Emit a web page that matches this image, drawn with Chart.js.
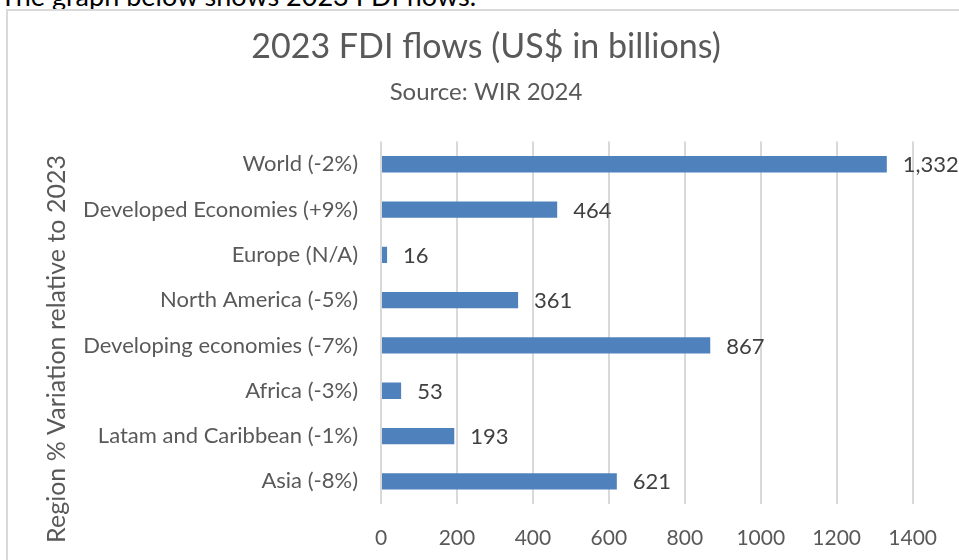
<!DOCTYPE html>
<html>
<head>
<meta charset="utf-8">
<script src="https://cdn.jsdelivr.net/npm/chart.js@4.4.1/dist/chart.umd.min.js"></script>
<style>
  html, body { margin: 0; padding: 0; background: #fff; overflow: hidden; }
  #page { position: relative; width: 959px; height: 560px; overflow: hidden; }
  #intro { position: absolute; left: 0; top: -18px; font: 27px Lato, sans-serif; line-height: 27px; color: #000; white-space: nowrap; }
  #frame { position: absolute; left: 6px; top: 9px; width: 1200px; height: 800px; border: 2px solid #d9d9d9; }
  #chart-box { position: absolute; left: 0; top: 0; width: 959px; height: 560px; }
</style>
</head>
<body>
<div id="page">
  <div id="intro">The graph below shows 2023 FDI flows.</div>
  <div id="frame"></div>
  <div id="chart-box"><canvas id="chart-container"></canvas></div>
</div>
<script>
  const regions = [
    "World (-2%)",
    "Developed Economies (+9%)",
    "Europe (N/A)",
    "North America (-5%)",
    "Developing economies (-7%)",
    "Africa (-3%)",
    "Latam and Caribbean (-1%)",
    "Asia (-8%)"
  ];
  const fdiFlows = [1332, 464, 16, 361, 867, 53, 193, 621];
  const xTicks = [0, 200, 400, 600, 800, 1000, 1200, 1400];

  const chartTitle = "2023 FDI flows (US$ in billions)";
  const chartSubtitle = "Source: WIR 2024";
  const yAxisTitle = "Region % Variation relative to 2023";

  const textGrey = "#595959";
  const fontFamily = "Lato, 'Open Sans', sans-serif";

  // value labels to the right of each bar
  const valueLabels = {
    id: 'valueLabels',
    afterDatasetsDraw(chart) {
      const ctx = chart.ctx;
      const meta = chart.getDatasetMeta(0);
      ctx.save();
      ctx.font = "22px " + fontFamily;
      ctx.fillStyle = "#404040";
      ctx.textAlign = "left";
      ctx.textBaseline = "middle";
      meta.data.forEach((bar, i) => {
        ctx.fillText(fdiFlows[i].toLocaleString('en-US'), bar.x + 16, bar.y + 1);
      });
      ctx.restore();
    }
  };

  // rotated axis title, centred like the Excel original
  const sideTitle = {
    id: 'sideTitle',
    afterDraw(chart) {
      const ctx = chart.ctx;
      ctx.save();
      ctx.translate(57, 349);
      ctx.rotate(-Math.PI / 2);
      ctx.font = "25px " + fontFamily;
      ctx.fillStyle = textGrey;
      ctx.textAlign = "center";
      ctx.textBaseline = "middle";
      ctx.fillText(yAxisTitle, 0, 0);
      ctx.restore();
    }
  };

  document.addEventListener("DOMContentLoaded", () => {
    new Chart(
      document.getElementById('chart-container'),
      {
        type: 'bar',
        data: {
          labels: regions,
          datasets: [{
            data: fdiFlows,
            backgroundColor: '#4f81bd',
            borderWidth: 0,
            categoryPercentage: 1,
            barPercentage: 0.36
          }]
        },
        plugins: [valueLabels, sideTitle],
        options: {
          indexAxis: 'y',
          responsive: true,
          maintainAspectRatio: false,
          animation: false,
          layout: {
            padding: { left: 59, right: 46, top: 12, bottom: 0 }
          },
          plugins: {
            legend: { display: false },
            tooltip: { enabled: false },
            title: {
              display: true,
              text: chartTitle,
              color: textGrey,
              font: { family: fontFamily, size: 34, weight: 'normal' },
              padding: { top: 15, bottom: 3 }
            },
            subtitle: {
              display: true,
              text: chartSubtitle,
              color: textGrey,
              font: { family: fontFamily, size: 24, weight: 'normal' },
              padding: { top: 7, bottom: 35 }
            }
          },
          scales: {
            x: {
              min: 0,
              max: 1400,
              afterBuildTicks: scale => {
                scale.ticks = xTicks.map(v => ({ value: v }));
              },
              afterFit: scale => { scale.height = 56; },
              grid: { color: '#d9d9d9', lineWidth: 2, drawTicks: false },
              border: { display: false },
              ticks: {
                color: textGrey,
                font: { family: fontFamily, size: 21 },
                padding: 22,
                callback: value => String(value)
              }
            },
            y: {
              afterFit: scale => { scale.width = 322; },
              grid: { display: false, drawTicks: false },
              border: { display: false },
              ticks: {
                color: textGrey,
                font: { family: fontFamily, size: 22 },
                padding: 23
              }
            }
          }
        }
      }
    );
  });
</script>
</body>
</html>
